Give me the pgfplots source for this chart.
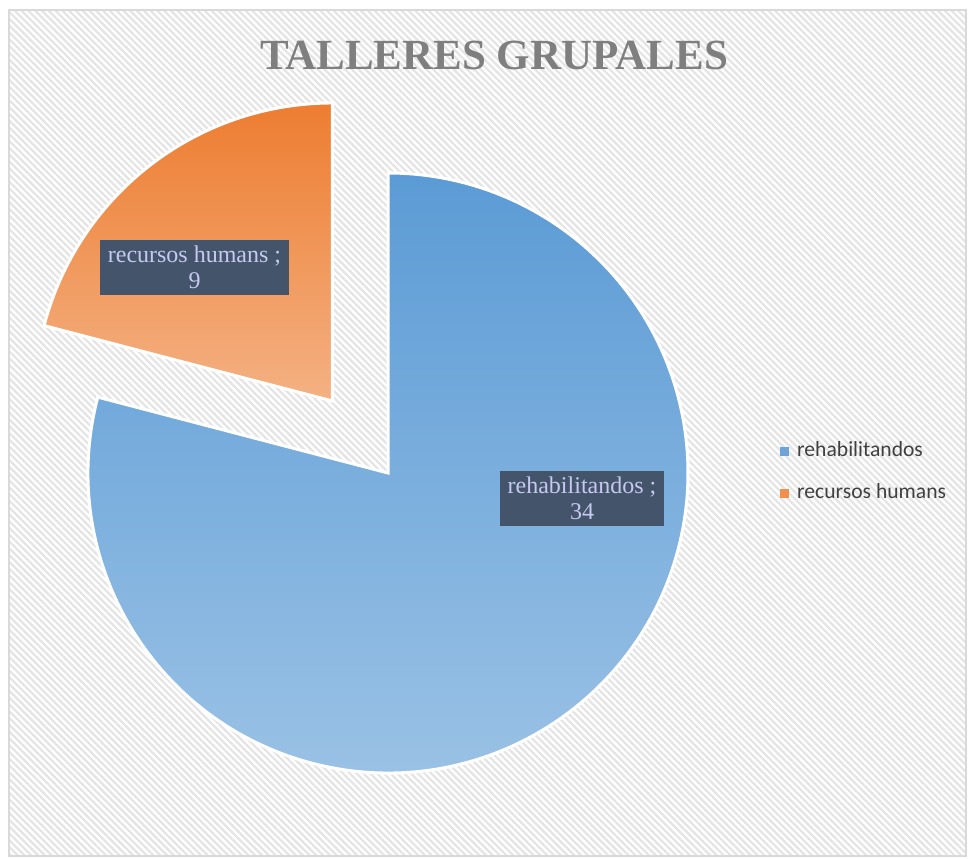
\documentclass[border=0pt]{standalone}
\usepackage{pgfplots}
\pgfplotsset{compat=1.18}
\usepackage{pgfplotstable}
\usepackage{fontspec}
\setmainfont{Liberation Serif}
\newfontfamily\legfont{Carlito}
\usetikzlibrary{patterns.meta}

\definecolor{blueTop}{HTML}{5B9BD5}
\definecolor{blueBot}{HTML}{9DC3E6}
\definecolor{blueLeg}{HTML}{6FA3D8}
\definecolor{orTop}{HTML}{ED7D31}
\definecolor{orBot}{HTML}{F4B183}
\definecolor{orLeg}{HTML}{F09050}
\definecolor{lblbox}{HTML}{44546A}
\definecolor{lbltext}{HTML}{C6C9F0}
\definecolor{titlegray}{HTML}{7F7F7F}
\definecolor{stripe}{HTML}{E4E4E4}
\definecolor{framegray}{HTML}{D9D9D9}

% talleres grupales
\pgfplotstableread{
name value
rehabilitandos 34
recursos 9
}\datatable

\begin{document}
\begin{tikzpicture}
\pgfplotstablegetelem{0}{value}\of\datatable \let\vA\pgfplotsretval
\pgfplotstablegetelem{1}{value}\of\datatable \let\vB\pgfplotsretval
\pgfmathsetmacro\angB{360*\vB/(\vA+\vB)}
\pgfmathsetmacro\endB{90+\angB}
\pgfmathsetmacro\midB{90+\angB/2}
\begin{axis}[
    scale only axis, width=484pt, height=429pt,
    xmin=0, xmax=968, ymin=0, ymax=858,
    hide axis, clip=false,
    legend style={at={(axis cs:780,386)}, anchor=west, draw=none, fill=none,
        font=\legfont\fontsize{10.8}{12}\selectfont, text=black!75,
        row sep=10.5pt, inner sep=0pt,
        nodes={inner sep=0pt, text height=8pt, text depth=2.5pt}},
    legend cell align=left,
]
    % background
    \fill[white] (axis cs:9,2) rectangle (axis cs:966,848);
    \pattern[pattern={Lines[angle=-45,distance=2.4pt,line width=1.1pt]}, pattern color=stripe]
        (axis cs:9,2) rectangle (axis cs:966,848);
    \draw[framegray, line width=1pt] (axis cs:9,2) rectangle (axis cs:966,848);

    % rehabilitandos
    \shadedraw[top color=blueTop, bottom color=blueBot, draw=white, line width=1.5pt]
        (axis cs:388,385) -- ++(\endB:150pt) arc[start angle=\endB, end angle=450, radius=150pt] -- cycle;
    % recursos humans (exploded)
    \shadedraw[top color=orTop, bottom color=orBot, draw=white, line width=1.5pt]
        ([shift={(\midB:45.5pt)}]axis cs:388,385) -- ++(90:149pt) arc[start angle=90, end angle=\endB, radius=149pt] -- cycle;

    \node[fill=lblbox, text=lbltext, align=center, font=\fontsize{12}{13}\selectfont,
        inner xsep=4pt, inner ysep=3pt] at (axis cs:582,359.5) {rehabilitandos ;\\\vA};
    \node[fill=lblbox, text=lbltext, align=center, font=\fontsize{12}{13}\selectfont,
        inner xsep=4pt, inner ysep=3pt] at (axis cs:194.5,590.5) {recursos humans ;\\\vB};

    \node[font=\bfseries\fontsize{21.5}{24}\selectfont, text=titlegray] at (axis cs:494,803) {TALLERES GRUPALES};

    \addlegendimage{legend image code/.code={\fill[blueLeg] (0pt,-2pt) rectangle (4pt,2pt); \path (8pt,0pt);}}
    \addlegendentry{rehabilitandos}
    \addlegendimage{legend image code/.code={\fill[orLeg] (0pt,-2pt) rectangle (4pt,2pt); \path (8pt,0pt);}}
    \addlegendentry{recursos humans}
\end{axis}
\pgfresetboundingbox
\path (current axis.south west) rectangle (current axis.north east);
\end{tikzpicture}
\end{document}
